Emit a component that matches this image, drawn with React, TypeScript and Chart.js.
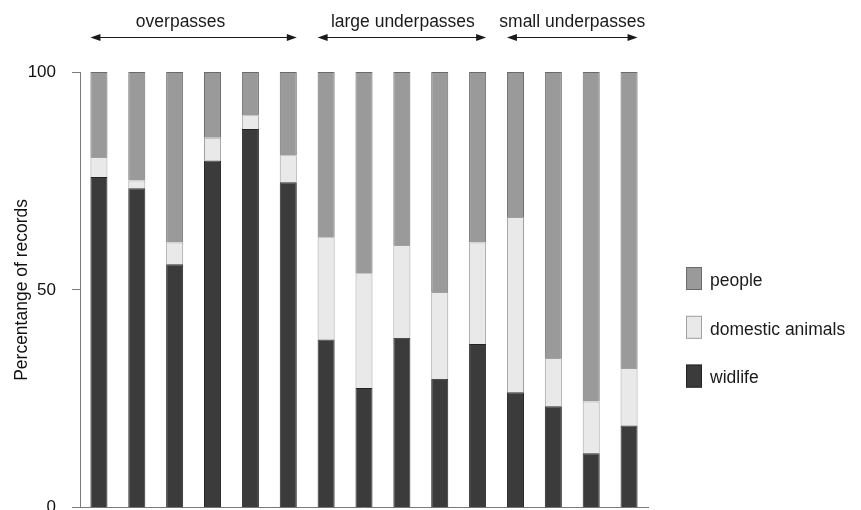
import React, { useEffect, useRef } from "react";
import { Chart, registerables } from "chart.js";

Chart.register(...registerables);

// ---- data ----
const sites = ["O1", "O2", "O3", "O4", "O5", "O6", "L1", "L2", "L3", "L4", "L5", "S1", "S2", "S3", "S4"];
const wildlife = [75.9, 73.3, 55.9, 79.7, 86.9, 74.7, 38.6, 27.5, 39.0, 29.6, 37.6, 26.5, 23.3, 12.5, 18.9];
const domestic = [4.6, 1.8, 5.0, 5.2, 3.2, 6.2, 23.5, 26.3, 21.3, 19.9, 23.3, 40.2, 11.1, 11.9, 13.2];
const people = [19.5, 24.9, 39.1, 15.1, 9.9, 19.1, 37.9, 46.2, 39.7, 50.5, 39.1, 33.3, 65.6, 75.6, 67.9];
const seriesNames = ["widlife", "domestic animals", "people"];
const yTickValues = [0, 50, 100];
const yTitle = "Percentange of records";
const groupNames = ["overpasses", "large underpasses", "small underpasses"];
const groupStart = [0, 6, 11];
const groupEnd = [5, 10, 14];

// ---- styles ----
const FONT = "'Liberation Sans', Arial, Helvetica, sans-serif";
const fills = ["#3b3b3b", "#e9e9e9", "#9a9a9a"];
const borders = ["#242424", "#a0a0a0", "#6a6a6a"];
const groupLabelShift = [-13, 1, 0];

const overlayPlugin = {
  id: "overlay",
  afterDraw(chart: any) {
    const ctx = chart.ctx as CanvasRenderingContext2D;
    const area = chart.chartArea;
    const meta = chart.getDatasetMeta(0);
    ctx.save();
    // group arrows + labels
    ctx.strokeStyle = "#1a1a1a";
    ctx.fillStyle = "#1a1a1a";
    ctx.lineWidth = 1;
    ctx.font = `17.5px ${FONT}`;
    ctx.textAlign = "center";
    ctx.textBaseline = "alphabetic";
    const ay = area.top - 34.5;
    groupNames.forEach((name, g) => {
      const a = meta.data[groupStart[g]] as any;
      const b = meta.data[groupEnd[g]] as any;
      const x0 = a.x - a.width / 2;
      const x1 = b.x + b.width / 2;
      ctx.beginPath();
      ctx.moveTo(x0 + 6, ay);
      ctx.lineTo(x1 - 6, ay);
      ctx.stroke();
      ctx.beginPath();
      ctx.moveTo(x0, ay);
      ctx.lineTo(x0 + 10, ay - 3.5);
      ctx.lineTo(x0 + 10, ay + 3.5);
      ctx.closePath();
      ctx.fill();
      ctx.beginPath();
      ctx.moveTo(x1, ay);
      ctx.lineTo(x1 - 10, ay - 3.5);
      ctx.lineTo(x1 - 10, ay + 3.5);
      ctx.closePath();
      ctx.fill();
      ctx.fillText(name, (x0 + x1) / 2 + groupLabelShift[g], area.top - 45);
    });
    // legend (reverse order: people, domestic, wildlife)
    ctx.textAlign = "left";
    ctx.textBaseline = "middle";
    const ds = chart.data.datasets;
    const bx = area.right + 38;
    const rowStart = 278.5;
    const rowStep = 48.8;
    for (let k = 0; k < ds.length; k++) {
      const d = ds[ds.length - 1 - k];
      const cy = rowStart + k * rowStep;
      ctx.fillStyle = d.backgroundColor;
      ctx.fillRect(bx, cy - 11.5, 16, 23);
      ctx.strokeStyle = d.borderColor;
      ctx.lineWidth = 1;
      ctx.strokeRect(bx + 0.5, cy - 11, 15, 22);
      ctx.fillStyle = "#1a1a1a";
      ctx.fillText(d.label, bx + 24, cy + 2.5);
    }
    ctx.restore();
  },
};

export default function App() {
  const ref = useRef<HTMLCanvasElement | null>(null);

  useEffect(() => {
    if (!ref.current) return;
    const series = [wildlife, domestic, people];
    const chart = new Chart(ref.current, {
      type: "bar",
      data: {
        labels: sites,
        datasets: series.map((vals, i) => ({
          label: seriesNames[i],
          data: vals,
          backgroundColor: fills[i],
          borderColor: borders[i],
          borderWidth: 1,
          barPercentage: 0.45,
          categoryPercentage: 1,
        })),
      },
      options: {
        responsive: false,
        animation: false,
        devicePixelRatio: 1,
        layout: { padding: { left: 0, top: 72, right: 213, bottom: 12 } },
        plugins: {
          legend: { display: false },
          tooltip: { enabled: false },
          title: { display: false },
        },
        scales: {
          x: {
            stacked: true,
            ticks: { display: false },
            grid: { display: false, drawTicks: false },
            border: { display: true, color: "#7a7a7a", width: 1 },
            afterFit: (scale: any) => {
              scale.height = 0;
            },
          },
          y: {
            stacked: true,
            min: 0,
            max: 100,
            afterBuildTicks: (scale: any) => {
              scale.ticks = yTickValues.map((v) => ({ value: v }));
            },
            afterFit: (scale: any) => {
              scale.width = 80;
            },
            ticks: {
              color: "#111",
              padding: 16,
              font: { family: FONT, size: 17 },
            },
            grid: {
              display: true,
              drawOnChartArea: false,
              drawTicks: true,
              tickLength: 8,
              tickColor: "#7a7a7a",
              lineWidth: 1,
            },
            border: { display: true, color: "#7a7a7a", width: 1 },
            title: {
              display: true,
              text: yTitle,
              color: "#111",
              font: { family: FONT, size: 17.5 },
              padding: { top: 12, bottom: 0 },
            },
          },
        },
      },
      plugins: [overlayPlugin],
    });
    return () => chart.destroy();
  }, []);

  return (
    <div
      style={{
        position: "fixed",
        left: 0,
        top: 0,
        width: 861,
        height: 510,
        overflow: "hidden",
        background: "#fff",
      }}
    >
      <canvas ref={ref} width={861} height={534} style={{ display: "block" }} />
    </div>
  );
}
